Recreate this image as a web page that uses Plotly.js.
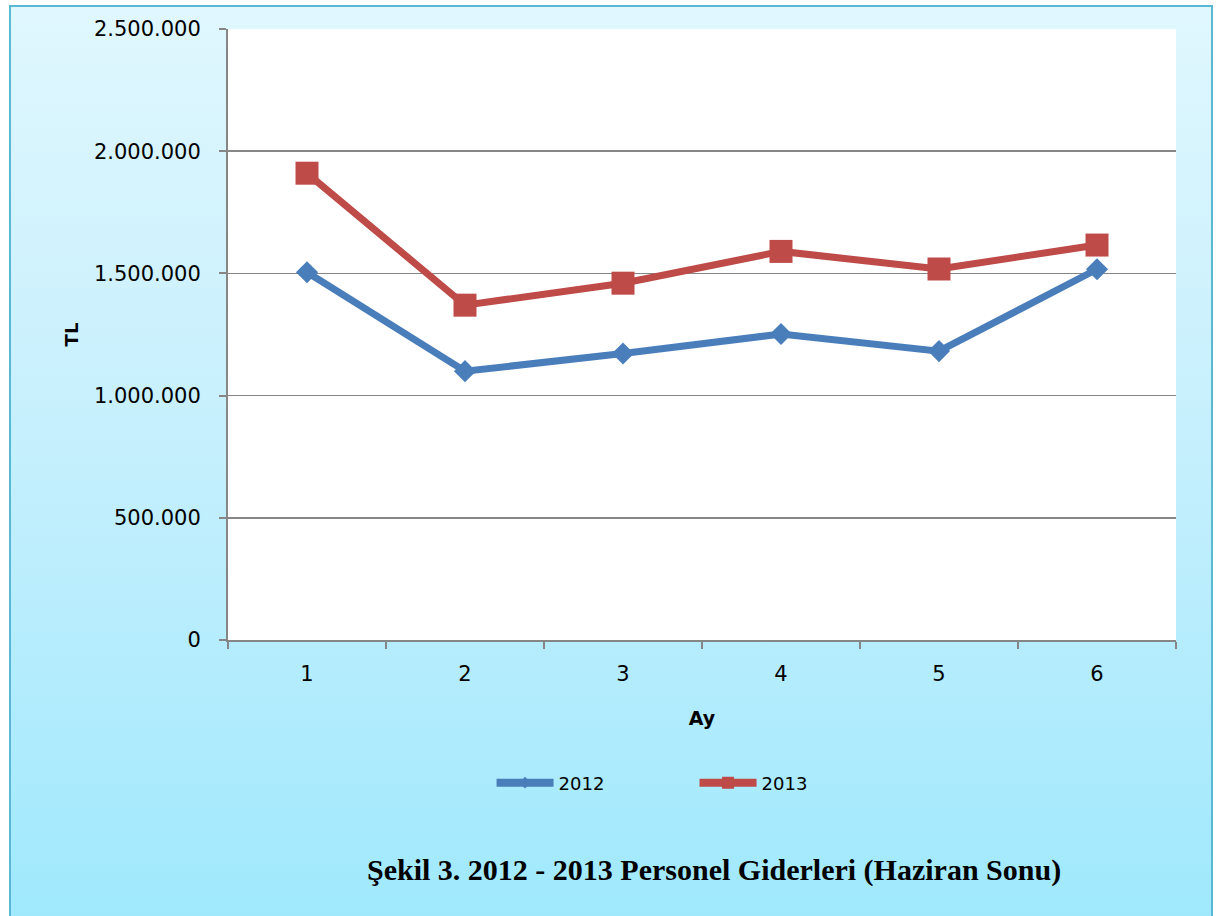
<!DOCTYPE html>
<html>
<head>
<meta charset="utf-8">
<script src="https://cdn.plot.ly/plotly-3.0.1.min.js"></script>
<style>
html,body{margin:0;padding:0;width:1216px;height:916px;overflow:hidden;background:#fff;}
#wrap{position:absolute;left:0;top:0;width:1216px;height:916px;}
#bg{position:absolute;left:9px;top:5px;width:1204px;height:913px;box-sizing:border-box;border:2px solid #5ab8d2;
background:linear-gradient(to bottom,#e0f7fe 0%,#c4effd 50%,#a0e9fd 100%);}
#chart{position:absolute;left:0;top:0;width:1216px;height:916px;}
</style>
</head>
<body>
<div id="wrap"><div id="bg"></div><div id="chart"></div></div>
<script>
const months = ["1","2","3","4","5","6"];
const series2012 = [1505000, 1100000, 1172000, 1252000, 1182000, 1517000];
const series2013 = [1910000, 1370000, 1460000, 1590000, 1518000, 1616000];
const yTicks = [0, 500000, 1000000, 1500000, 2000000, 2500000];
const yTickLabels = ["0", "500.000", "1.000.000", "1.500.000", "2.000.000", "2.500.000"];
const seriesNames = ["2012", "2013"];
const xTitle = "Ay";
const yTitle = "TL";
const caption = "Şekil 3. 2012 - 2013 Personel Giderleri (Haziran Sonu)";

const blue = "#4a7ebb", red = "#be4b48";
const traces = [
  {x: months, y: series2012, name: seriesNames[0], type: "scatter", mode: "lines+markers", showlegend: false,
   line: {color: blue, width: 7}, marker: {symbol: "diamond", size: 17, color: blue}},
  {x: months, y: series2013, name: seriesNames[1], type: "scatter", mode: "lines+markers", showlegend: false,
   line: {color: red, width: 7}, marker: {symbol: "square", size: 23, color: red}},
  // legend-only entries (no data points) with the small legend symbols of the reference
  {x: [null], y: [null], name: seriesNames[0], type: "scatter", mode: "lines+markers",
   line: {color: blue, width: 8}, marker: {symbol: "diamond", size: 9, color: blue}},
  {x: [null], y: [null], name: seriesNames[1], type: "scatter", mode: "lines+markers",
   line: {color: red, width: 8}, marker: {symbol: "square", size: 12, color: red}}
];

const layout = {
  width: 1216, height: 916,
  paper_bgcolor: "rgba(0,0,0,0)",
  plot_bgcolor: "#ffffff",
  margin: {l: 228, r: 40, t: 29, b: 276},
  font: {family: "DejaVu Sans, sans-serif", size: 21, color: "#000"},
  showlegend: true,
  legend: {orientation: "h", x: 0.278, xanchor: "left", y: -0.234, yanchor: "middle",
           font: {size: 18, color: "#000"}, itemwidth: 57, tracegroupgap: 0,
           bgcolor: "rgba(0,0,0,0)", entrywidth: 131},
  xaxis: {
    type: "category", range: [-0.5, 5.5], tickson: "boundaries", ticks: "outside", ticklen: 7, tickwidth: 2,
    tickcolor: "#868686", showline: true, linecolor: "#868686", linewidth: 2,
    showgrid: false, zeroline: false, tickfont: {size: 21}, ticklabelstandoff: 14,
    title: {text: "<b>" + xTitle + "</b>", font: {size: 19}, standoff: 26}
  },
  yaxis: {
    range: [0, 2500000], tickvals: yTicks, ticktext: yTickLabels, ticks: "outside", ticklen: 7,
    tickwidth: 2, tickcolor: "#868686", showline: true, linecolor: "#868686", linewidth: 2,
    showgrid: true, gridcolor: "#868686", gridwidth: 1.5, zeroline: false, tickfont: {size: 21},
    ticklabelstandoff: 14,
    title: {text: "<b>" + yTitle + "</b>", font: {size: 18}, standoff: 11}
  },
  annotations: [{
    text: "<b>" + caption + "</b>", xref: "paper", yref: "paper", x: 0.5127, y: -0.376,
    xanchor: "center", yanchor: "middle", showarrow: false,
    font: {family: "Liberation Serif, Times New Roman, serif", size: 30, color: "#000"}
  }]
};

Plotly.newPlot("chart", traces, layout, {displayModeBar: false, staticPlot: true});
</script>
</body>
</html>
